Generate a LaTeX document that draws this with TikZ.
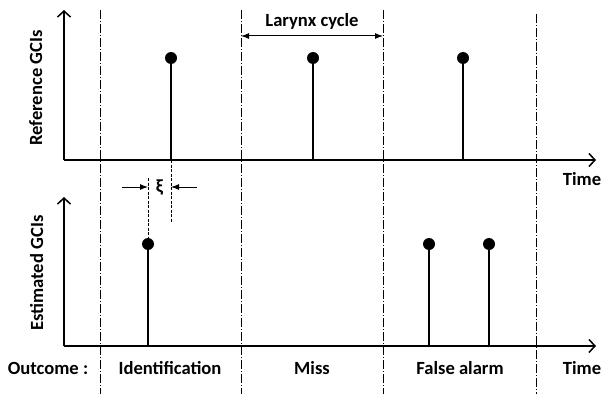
\documentclass[tikz,border=0pt]{standalone}
\usepackage{fontspec}
\setmainfont{Carlito}
\usetikzlibrary{arrows.meta}
\begin{document}
\begin{tikzpicture}[x=1pt,y=-1pt,
  lbl/.style={font=\fontsize{18.6}{20}\selectfont\bfseries, inner sep=0pt, anchor=base},
  axis/.style={line width=1.5pt, -{Straight Barb[length=6pt,width=13pt]}},
  sep/.style={line width=0.8pt, dash pattern=on 9pt off 2pt on 1pt off 2pt},
  stem/.style={line width=1.2pt},
  gdot/.style={circle, fill=black, minimum size=12pt, inner sep=0pt},
  guide/.style={line width=0.8pt, dash pattern=on 3pt off 1.5pt},
  dimarr/.style={line width=1pt, -{Latex[length=8pt,width=6pt]}},
  cyc/.style={line width=1pt, {Latex[length=8pt,width=6pt]}-{Latex[length=8pt,width=6pt]}}]
\useasboundingbox (0,0) rectangle (602,396);
% axes
\coordinate (o1) at (64,160);
\coordinate (y1) at (64,10);
\coordinate (x1) at (596,160);
\coordinate (o2) at (64,346);
\coordinate (y2) at (64,197);
\coordinate (x2) at (596,346);
\draw[axis] (o1) -- (y1);
\draw[axis] (o1) -- (x1);
\draw[axis] (o2) -- (y2);
\draw[axis] (o2) -- (x2);
% separators
\foreach \n/\x/\t in {s1/100/10, s2/241/10, s3/383/10, s4/536/14}{
  \coordinate (\n t) at (\x,\t);
  \coordinate (\n b) at (\x,394);
  \draw[sep] (\n t) -- (\n b);
}
% reference GCIs
\node[gdot] (r1) at (171,58) {};
\node[gdot] (r2) at (313,58) {};
\node[gdot] (r3) at (463,58) {};
\foreach \r in {r1,r2,r3}{\draw[stem] (\r.center) -- (\r.center |- o1);}
% estimated GCIs
\node[gdot] (e1) at (148,244) {};
\node[gdot] (e2) at (429,244) {};
\node[gdot] (e3) at (489,244) {};
\foreach \e in {e1,e2,e3}{\draw[stem] (\e.center) -- (\e.center |- o2);}
% xi
\coordinate (g1t) at (148,178);
\coordinate (g2b) at (171,222);
\draw[guide] (g1t) -- (e1.north);
\draw[guide] (r1.center |- o1) -- (g2b);
\coordinate (a1) at (122,187);
\coordinate (a2) at (197,187);
\draw[dimarr] (a1) -- (a1 -| e1);
\draw[dimarr] (a2) -- (a2 -| r1);
\node[lbl] (xi) at (159.5,192) {ξ};
% larynx cycle
\coordinate (c1) at (241,36);
\coordinate (c2) at (383,36);
\draw[cyc] (c1) -- (c2);
\node[lbl] (lc) at (312,27) {Larynx cycle};
% labels
\node[lbl] (t1) at (582,185) {Time};
\node[lbl] (t2) at (582,374) {Time};
\node[lbl, rotate=90] (ref) at (42,88) {Reference GCIs};
\node[lbl, rotate=90] (est) at (43,273) {Estimated GCIs};
\node[lbl] (out) at (48,374) {Outcome :};
\node[lbl] (idf) at (170,374) {Identification};
\node[lbl] (mis) at (312,374) {Miss};
\node[lbl] (fal) at (460,374) {False alarm};
\end{tikzpicture}
\end{document}
